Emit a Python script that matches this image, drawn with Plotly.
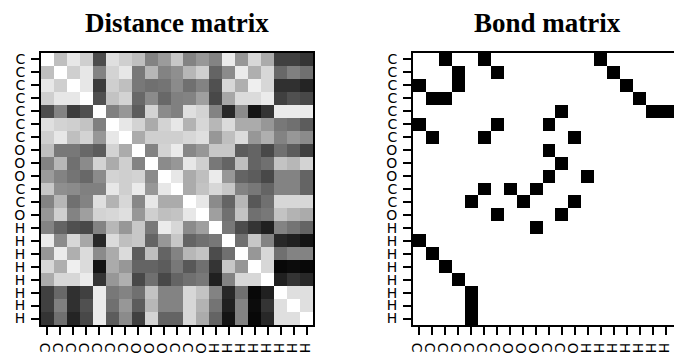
import plotly.graph_objects as go

atoms = ["C", "C", "C", "C", "C", "C", "C", "O", "O", "O", "C", "C", "O",
         "H", "H", "H", "H", "H", "H", "H", "H"]

# Interatomic distances (approx. Angstrom, read from the grey levels)
dist = [
    [0.0, 1.6, 0.6, 1.2, 4.5, 0.8, 1.2, 1.6, 3.1, 2.5, 1.4, 3.1, 2.6, 3.1, 0.5, 2.6, 1.0, 2.1, 4.8, 4.8, 5.1],
    [1.6, 0.0, 1.2, 0.6, 3.1, 1.1, 0.6, 3.4, 1.8, 3.1, 2.8, 1.8, 1.2, 3.9, 2.9, 0.5, 2.0, 1.0, 3.8, 3.2, 3.6],
    [0.6, 1.2, 0.0, 0.6, 4.9, 1.2, 1.6, 3.4, 3.6, 3.5, 2.9, 3.6, 3.1, 4.4, 1.0, 2.0, 0.4, 1.0, 5.2, 5.2, 5.5],
    [1.2, 0.6, 0.6, 0.0, 4.4, 1.5, 1.1, 3.8, 2.9, 3.8, 3.2, 3.1, 2.4, 4.6, 2.2, 0.9, 0.9, 0.5, 4.8, 4.4, 4.6],
    [4.5, 3.1, 4.9, 4.4, 0.0, 3.2, 2.6, 4.1, 1.1, 2.9, 3.2, 0.8, 1.1, 3.1, 5.4, 2.9, 5.9, 5.1, 0.5, 0.5, 0.5],
    [0.8, 1.1, 1.2, 1.5, 3.2, 0.0, 0.6, 1.1, 2.1, 1.1, 0.6, 1.9, 1.0, 1.8, 0.9, 2.1, 2.1, 2.6, 3.4, 3.6, 4.1],
    [1.2, 0.6, 1.6, 1.1, 2.6, 0.6, 0.0, 2.1, 1.2, 1.2, 1.2, 1.0, 0.8, 2.6, 1.6, 0.9, 2.6, 2.0, 3.1, 2.6, 2.9],
    [1.6, 3.4, 3.4, 3.8, 4.1, 1.1, 2.1, 0.0, 3.1, 1.1, 0.5, 3.0, 2.6, 1.4, 1.4, 4.1, 3.9, 4.6, 3.6, 4.1, 4.8],
    [3.1, 1.8, 3.6, 2.9, 1.1, 2.1, 1.2, 3.1, 0.0, 2.9, 2.6, 0.6, 1.2, 3.4, 3.9, 1.6, 3.9, 3.6, 1.5, 1.8, 1.1],
    [2.5, 3.1, 3.5, 3.8, 2.9, 1.1, 1.2, 1.1, 2.9, 0.0, 0.6, 2.1, 1.6, 0.5, 2.6, 3.9, 4.1, 4.6, 3.1, 3.1, 3.9],
    [1.4, 2.8, 2.9, 3.2, 3.2, 0.6, 1.2, 0.5, 2.6, 0.6, 0.0, 2.1, 1.5, 1.0, 1.4, 3.1, 3.4, 3.9, 3.1, 3.1, 3.9],
    [3.1, 1.8, 3.6, 3.1, 0.8, 1.9, 1.0, 3.0, 0.6, 2.1, 2.1, 0.0, 0.6, 2.9, 3.9, 1.8, 4.2, 3.6, 1.0, 1.0, 1.0],
    [2.6, 1.2, 3.1, 2.4, 1.1, 1.0, 0.8, 2.6, 1.2, 1.6, 1.5, 0.6, 0.0, 2.4, 3.6, 1.5, 3.6, 3.4, 1.5, 1.9, 2.1],
    [3.1, 3.9, 4.4, 4.6, 3.1, 1.8, 2.6, 1.4, 3.4, 0.5, 1.0, 2.9, 2.4, 0.0, 3.4, 4.5, 5.1, 5.6, 3.1, 3.5, 3.9],
    [0.5, 2.9, 1.0, 2.2, 5.4, 0.9, 1.6, 1.4, 3.9, 2.6, 1.4, 3.9, 3.6, 3.4, 0.0, 3.6, 1.4, 3.1, 5.4, 5.6, 5.9],
    [2.6, 0.5, 2.0, 0.9, 2.9, 2.1, 0.9, 4.1, 1.6, 3.9, 3.1, 1.8, 1.5, 4.5, 3.6, 0.0, 2.6, 1.0, 3.6, 3.1, 3.1],
    [1.0, 2.0, 0.4, 0.9, 5.9, 2.1, 2.6, 3.9, 3.9, 4.1, 3.4, 4.2, 3.6, 5.1, 1.4, 2.6, 0.0, 1.0, 6.2, 6.1, 6.2],
    [2.1, 1.0, 1.0, 0.5, 5.1, 2.6, 2.0, 4.6, 3.6, 4.6, 3.9, 3.6, 3.4, 5.6, 3.1, 1.0, 1.0, 0.0, 5.6, 5.1, 5.4],
    [4.8, 3.8, 5.2, 4.8, 0.5, 3.4, 3.1, 3.6, 1.5, 3.1, 3.1, 1.0, 1.5, 3.1, 5.4, 3.6, 6.2, 5.6, 0.0, 0.8, 0.8],
    [4.8, 3.2, 5.2, 4.4, 0.5, 3.6, 2.6, 4.1, 1.8, 3.1, 3.1, 1.0, 1.9, 3.5, 5.6, 3.1, 6.1, 5.1, 0.8, 0.0, 0.8],
    [5.1, 3.6, 5.5, 4.6, 0.5, 4.1, 2.9, 4.8, 1.1, 3.9, 3.9, 1.0, 2.1, 3.9, 5.9, 3.1, 6.2, 5.4, 0.8, 0.8, 0.0],
]

# Bonded atom pairs (i, j), symmetric adjacency
bond_pairs = [
    (0, 2), (0, 5), (0, 14), (1, 3), (1, 6), (1, 15), (2, 3), (2, 16),
    (3, 17), (4, 11), (4, 18), (4, 19), (4, 20), (5, 6), (5, 10), (6, 12),
    (7, 10), (8, 11), (9, 10), (9, 13), (11, 12),
]

n = len(atoms)
bond = [[0] * n for _ in range(n)]
for i, j in bond_pairs:
    bond[i][j] = 1
    bond[j][i] = 1

idx = list(range(n))
gray = [[0, "white"], [1, "black"]]

fig = go.Figure()
fig.add_trace(go.Heatmap(z=dist, x=idx, y=idx, colorscale=gray, zmin=0, zmax=6.4,
                         showscale=False, xaxis="x", yaxis="y"))
fig.add_trace(go.Heatmap(z=bond, x=idx, y=idx, colorscale=gray, zmin=0, zmax=1,
                         showscale=False, xaxis="x2", yaxis="y2"))

# page body has an 8px margin, so the figure is placed 8px in from top-left
OFF = 8
W, H = 682 - OFF, 356 - OFF


def px_x(p):
    return (p - OFF) / W


def px_y(p):
    return (H - (p - OFF)) / H


tickfont = dict(family="DejaVu Sans", size=14, color="black")
common_x = dict(tickmode="array", tickvals=idx, ticktext=atoms, ticks="outside",
                ticklen=8, tickwidth=2, tickcolor="black", showline=True,
                linecolor="black", linewidth=2, showgrid=False, zeroline=False,
                tickfont=tickfont, ticklabelstandoff=-2, fixedrange=True,
                automargin=False)
common_y = dict(tickmode="array", tickvals=idx, ticktext=atoms, ticks="outside",
                ticklen=8, tickwidth=2, tickcolor="black", showline=True,
                linecolor="black", linewidth=2, showgrid=False, zeroline=False,
                tickfont=tickfont, ticklabelstandoff=3, autorange=False,
                range=[n - 0.5, -0.5], fixedrange=True, automargin=False)

y_dom = [px_y(325), px_y(53)]
fig.update_layout(
    width=W, height=H, margin=dict(l=0, r=0, t=0, b=0, autoexpand=False),
    paper_bgcolor="white", plot_bgcolor="white",
    font=dict(family="DejaVu Sans", color="black"),
    xaxis=dict(common_x, domain=[px_x(41), px_x(313)], range=[-0.5, n - 0.5], mirror=True, anchor="y"),
    yaxis=dict(common_y, domain=y_dom, mirror=True, anchor="x"),
    xaxis2=dict(common_x, domain=[px_x(413), 1.0], range=[-0.5, n - 0.73], mirror=True, anchor="y2"),
    yaxis2=dict(common_y, domain=y_dom, mirror=False, anchor="x2"),
    annotations=[
        dict(text="Distance matrix", x=px_x(177), y=px_y(23), xref="paper", yref="paper",
             showarrow=False, xanchor="center", yanchor="middle",
             font=dict(family="Liberation Serif", size=27, color="black", weight="bold")),
        dict(text="Bond matrix", x=px_x(547), y=px_y(23), xref="paper", yref="paper",
             showarrow=False, xanchor="center", yanchor="middle",
             font=dict(family="Liberation Serif", size=27, color="black", weight="bold")),
    ],
)

fig.write_html("out.html")
